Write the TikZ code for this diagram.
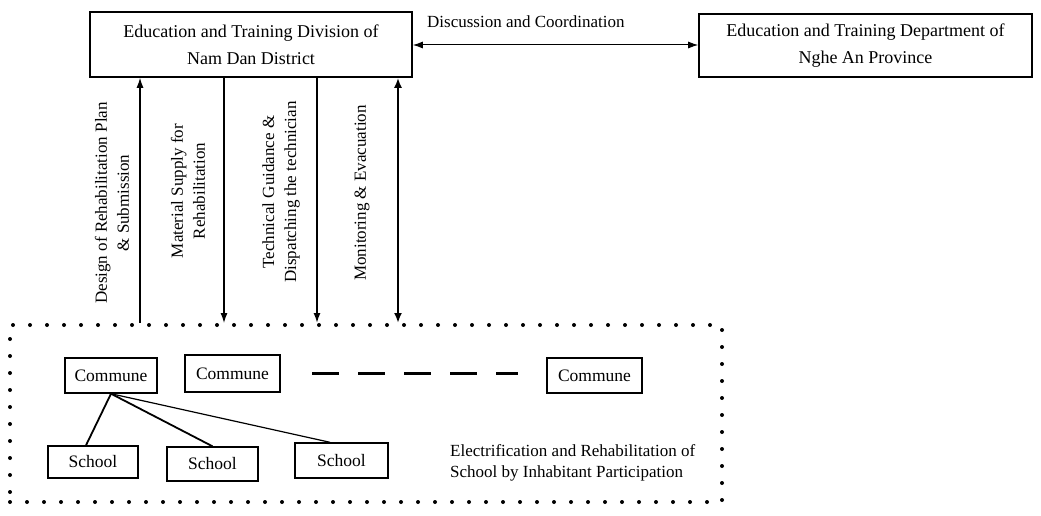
\documentclass[tikz,border=0pt]{standalone}
\usepackage{fontspec}
\setmainfont{Liberation Serif}
\usetikzlibrary{arrows.meta}
\begin{document}
\begin{tikzpicture}[x=1pt,y=-1pt,
  box/.style={draw, line width=1.6pt, inner sep=0pt, align=center, font=\fontsize{18}{27}\selectfont},
  unit/.style={draw, line width=1.4pt, inner sep=0pt, font=\fontsize{17.5}{20}\selectfont},
  lab/.style={font=\fontsize{17}{22}\selectfont, align=center, rotate=90, inner sep=0pt},
  tip/.style={-{Latex[length=10pt,width=7pt]}},
  link/.style={line width=1.4pt},
]
\useasboundingbox (0,0) rectangle (1041,516);
% top boxes
\node[box, minimum width=322pt, minimum height=65pt] (div) at (251,44.5)
  {Education and Training Division of\\Nam Dan District};
\node[box, minimum width=333pt, minimum height=63pt] (dep) at (865.5,45.5)
  {Education and Training Department of\\Nghe An Province};
\draw[line width=1pt, {Latex[length=10pt,width=7pt]}-{Latex[length=10pt,width=7pt]}] (div.east |- 0,45) -- (dep.west |- 0,45);
\node[anchor=west, inner sep=0pt, font=\fontsize{17}{20}\selectfont] (disc) at (427,22) {Discussion and Coordination};
% dotted area
\node[draw, line width=4pt, dash pattern=on 0pt off 17pt, line cap=round,
  minimum width=712pt, minimum height=177pt, inner sep=0pt] (area) at (366,413.5) {};
% vertical connectors
\coordinate (x1) at (140,0);
\coordinate (x2) at (224,0);
\coordinate (x3) at (317,0);
\coordinate (x4) at (398,0);
\draw[tip, line width=1.2pt] (area.north -| x1) -- (div.south -| x1);
\draw[tip, line width=1.2pt] (div.south -| x2) -- (area.north -| x2);
\draw[tip, line width=1.6pt] (div.south -| x3) -- (area.north -| x3);
\draw[line width=2.6pt, {Latex[length=10pt,width=8pt]}-{Latex[length=10pt,width=8pt]}] (div.south -| x4) -- (area.north -| x4);
\node[lab] (l1) at (112,203) {Design of Rehabilitation Plan\\\& Submission};
\node[lab] (l2) at (188,191) {Material Supply for\\Rehabilitation};
\node[lab] (l3) at (281,192) {Technical Guidance \&\\Dispatching the technician};
\node[lab] (l4) at (362,193) {Monitoring \& Evacuation};
% communes
\node[unit, minimum width=92pt, minimum height=35pt] (c1) at (111,375.5) {Commune};
\node[unit, minimum width=95pt, minimum height=37pt] (c2) at (232.5,373.5) {Commune};
\node[unit, minimum width=95pt, minimum height=35pt] (c3) at (594.5,375.5) {Commune};
\coordinate (d1) at (312,373);
\coordinate (d2) at (518,373);
\draw[line width=3pt, dash pattern=on 27pt off 19pt] (d1) -- (d2);
% schools
\node[unit, minimum width=90pt, minimum height=32pt] (s1) at (93,462) {School};
\node[unit, minimum width=91pt, minimum height=34pt] (s2) at (212.5,464) {School};
\node[unit, minimum width=93pt, minimum height=35pt] (s3) at (341.5,460.5) {School};
\draw[link, line width=1.8pt] (c1.south) -- (s1.north -| 86,0);
\draw[link, line width=1.8pt] (c1.south) -- (s2.north);
\draw[link, line width=1.2pt] (c1.south) -- (s3.north -| 330,0);
\node[anchor=west, align=left, inner sep=0pt, font=\fontsize{17}{21}\selectfont] (cap) at (450,462.5)
  {Electrification and Rehabilitation of\\School by Inhabitant Participation};
\end{tikzpicture}
\end{document}
